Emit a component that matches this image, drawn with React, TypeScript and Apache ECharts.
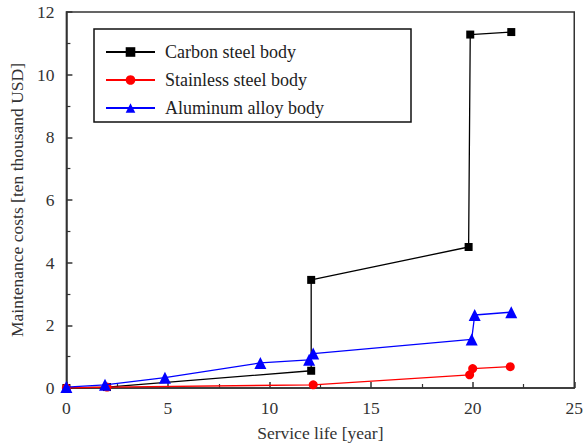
import React, { useEffect, useRef } from "react";
import * as echarts from "echarts";

const seriesNames = ["Carbon steel body", "Stainless steel body", "Aluminum alloy body"];
const carbonSteel: [number, number][] = [
  [0, 0], [2, 0.03], [12.05, 0.55], [12.05, 3.45], [19.8, 4.5], [19.88, 11.28], [21.9, 11.36],
];
const stainlessSteel: [number, number][] = [
  [0, 0], [2, 0.03], [12.15, 0.1], [19.85, 0.42], [20, 0.62], [21.85, 0.68],
];
const aluminumAlloy: [number, number][] = [
  [0, 0.03], [1.9, 0.1], [4.85, 0.33], [9.55, 0.8], [11.95, 0.9], [12.15, 1.1], [19.95, 1.55], [20.1, 2.33], [21.9, 2.42],
];
const xTicks = [0, 5, 10, 15, 20, 25];
const yTicks = [0, 2, 4, 6, 8, 10, 12];

const FONT = "'Liberation Serif', 'Times New Roman', serif";
const AXIS = "#333";

export default function App() {
  const ref = useRef<HTMLDivElement>(null);
  useEffect(() => {
    if (!ref.current) return;
    const chart = echarts.init(ref.current, undefined, { renderer: "svg" });
    const colors = ["#000000", "#ff0000", "#0000ff"];
    const symbols = ["rect", "circle", "triangle"];
    const sizes = [8, 9, 12];
    const datas = [carbonSteel, stainlessSteel, aluminumAlloy];
    const rowTops = [42, 70, 98];
    chart.setOption({
      animation: false,
      textStyle: { fontFamily: FONT },
      grid: {
        left: 63, top: 12, width: 514, height: 379,
        show: true, borderColor: AXIS, borderWidth: 1.5, backgroundColor: "transparent",
      },
      graphic: [
        {
          type: "rect",
          shape: { x: 94, y: 29, width: 317, height: 93 },
          style: { fill: "#fff", stroke: "#111", lineWidth: 1.5 },
          z: 50,
        },
      ],
      legend: seriesNames.map((n, i) => ({
        data: [n],
        left: 105,
        top: rowTops[i],
        padding: 0,
        itemWidth: 49,
        itemHeight: 12,
        z: 60,
        textStyle: { fontFamily: FONT, fontSize: 18, color: "#222", lineHeight: 20, padding: [0, 0, 0, 5] },
      })),
      xAxis: {
        type: "value",
        min: 0, max: 25, interval: 5,
        name: "Service life [year]",
        nameLocation: "middle",
        nameGap: 36,
        nameTextStyle: { fontFamily: FONT, fontSize: 17.5, color: "#333" },
        axisLine: { lineStyle: { color: AXIS, width: 1.5 } },
        axisTick: { inside: true, length: 6, lineStyle: { color: AXIS, width: 1.5 } },
        minorTick: { show: true, splitNumber: 2, length: 4, lineStyle: { color: AXIS, width: 1.2 } },
        axisLabel: {
          fontFamily: FONT, fontSize: 17.5, color: "#333", margin: 11,
          formatter: (v: number) => (xTicks.includes(v) ? String(v) : ""),
        },
        splitLine: { show: false },
      },
      yAxis: {
        type: "value",
        min: 0, max: 12, interval: 2,
        name: "Maintenance costs [ten thousand USD]",
        nameLocation: "middle",
        nameGap: 40,
        nameTextStyle: { fontFamily: FONT, fontSize: 17.5, color: "#333" },
        axisLine: { show: true, lineStyle: { color: AXIS, width: 1.5 } },
        axisTick: { show: true, inside: true, length: 6, lineStyle: { color: AXIS, width: 1.5 } },
        minorTick: { show: true, splitNumber: 2, length: 4, lineStyle: { color: AXIS, width: 1.2 } },
        axisLabel: {
          fontFamily: FONT, fontSize: 17.5, color: "#333", margin: 12,
          formatter: (v: number) => (yTicks.includes(v) ? String(v) : ""),
        },
        splitLine: { show: false },
      },
      series: seriesNames.map((n, i) => ({
        name: n,
        type: "line",
        data: datas[i],
        symbol: symbols[i],
        symbolSize: sizes[i],
        showAllSymbol: true,
        clip: true,
        lineStyle: { color: colors[i], width: 1.3 },
        itemStyle: { color: colors[i] },
        z: 2 + i,
      })),
    });
    return () => chart.dispose();
  }, []);
  return (
    <div
      ref={ref}
      style={{ position: "fixed", left: 0, top: 0, width: 586, height: 447, background: "#fff" }}
    />
  );
}
